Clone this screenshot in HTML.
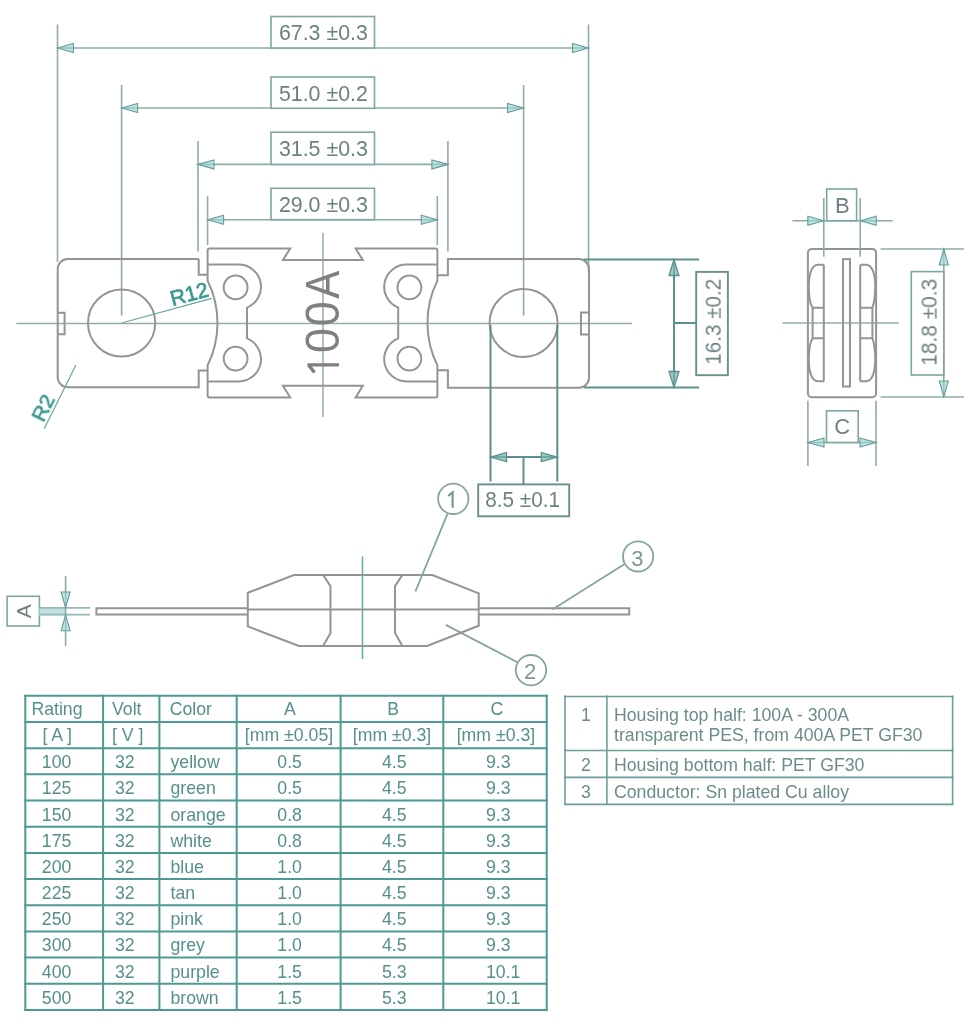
<!DOCTYPE html>
<html><head><meta charset="utf-8">
<style>
html,body{margin:0;padding:0;background:#fff;width:964px;height:1024px;overflow:hidden}
svg{display:block;position:absolute;left:0;top:0;will-change:transform}
text{font-family:"Liberation Sans",sans-serif}
.o{fill:none;stroke:#949494;stroke-width:2}
.d{fill:none;stroke:#8eaba8;stroke-width:1.6}
.dk{fill:none;stroke:#5e918d;stroke-width:2}
.c{fill:none;stroke:#92aeac;stroke-width:1.5}
.ark{fill:rgba(120,180,175,0.7);stroke:#5e918d;stroke-width:1.3}
.ar{fill:rgba(150,215,210,0.65);stroke:#6a9c98;stroke-width:1.1}
.bx{fill:#fff;stroke:#7ea6a3;stroke-width:1.6}
.t{fill:#6b8280;font-size:21px}
.tb{stroke:#4c9a92;stroke-width:2}
.tb2{stroke:#6d9d99;stroke-width:1.6}
.tt{fill:#55908b;font-size:17.7px}
.tt2{fill:#6b8d8a;font-size:17.7px}
.r{fill:#3a9a91;stroke:#3a9a91;stroke-width:0.7;font-size:21px}
</style></head>
<body>
<svg width="964" height="1024" viewBox="0 0 964 1024">
<defs>
<path id="arL" d="M0,0 L16,-4.5 L16,4.5 Z" class="ar"/>
</defs>

<!-- ===== TOP DIMENSIONS ===== -->
<g id="topdims">
<!-- 67.3 -->
<line class="d" x1="57.5" y1="24.5" x2="57.5" y2="262"/>
<line class="d" x1="588.5" y1="24.5" x2="588.5" y2="272"/>
<line class="d" x1="57.5" y1="48" x2="588.5" y2="48"/>
<path class="ar" d="M57.5,48 L73.5,43.5 L73.5,52.5 Z"/>
<path class="ar" d="M588.5,48 L572.5,43.5 L572.5,52.5 Z"/>
<rect class="bx" x="271" y="16.5" width="103.5" height="31.5"/>
<text class="t" style="font-size:23px" transform="translate(323.4,40) scale(0.93,1)" text-anchor="middle">67.3 ±0.3</text>
<!-- 51.0 -->
<line class="d" x1="121.6" y1="85" x2="121.6" y2="315.6"/>
<line class="d" x1="523.6" y1="85" x2="523.6" y2="315.6"/>
<line class="d" x1="121.6" y1="108" x2="523.6" y2="108"/>
<path class="ar" d="M121.6,108 L137.6,103.5 L137.6,112.5 Z"/>
<path class="ar" d="M523.6,108 L507.6,103.5 L507.6,112.5 Z"/>
<rect class="bx" x="271" y="77" width="103.5" height="31.3"/>
<text class="t" style="font-size:23px" transform="translate(323.4,101) scale(0.93,1)" text-anchor="middle">51.0 ±0.2</text>
<!-- 31.5 -->
<line class="d" x1="198" y1="141" x2="198" y2="251.6"/>
<line class="d" x1="447.9" y1="141" x2="447.9" y2="251.6"/>
<line class="d" x1="198" y1="164.4" x2="447.9" y2="164.4"/>
<path class="ar" d="M198,164.4 L214,159.9 L214,168.9 Z"/>
<path class="ar" d="M447.9,164.4 L431.9,159.9 L431.9,168.9 Z"/>
<rect class="bx" x="271" y="132.2" width="103.5" height="32.2"/>
<text class="t" style="font-size:23px" transform="translate(323.4,156.3) scale(0.93,1)" text-anchor="middle">31.5 ±0.3</text>
<!-- 29.0 -->
<line class="d" x1="207.6" y1="196" x2="207.6" y2="245"/>
<line class="d" x1="437.3" y1="196" x2="437.3" y2="245"/>
<line class="d" x1="207.6" y1="219.7" x2="437.3" y2="219.7"/>
<path class="ar" d="M207.6,219.7 L223.6,215.2 L223.6,224.2 Z"/>
<path class="ar" d="M437.3,219.7 L421.3,215.2 L421.3,224.2 Z"/>
<rect class="bx" x="271" y="188.3" width="103.5" height="31.4"/>
<text class="t" style="font-size:23px" transform="translate(323.4,211.5) scale(0.93,1)" text-anchor="middle">29.0 ±0.3</text>
</g>

<!-- ===== MAIN FUSE TOP VIEW ===== -->
<g id="fuse">
<!-- center lines -->
<line class="c" x1="16.3" y1="323.5" x2="632" y2="323.5"/>
<line class="c" x1="323" y1="232.7" x2="323" y2="417"/>
<!-- left body -->
<path class="o" d="M198.7,259 L67.7,259 A10,10 0 0 0 57.7,269 L57.7,377.2 A10,10 0 0 0 67.7,387.2 L198.7,387.2 L198.7,370.5 L207.6,370.5"/>
<path class="o" d="M198.7,259 L198.7,274.8 L207.6,274.8"/>
<path class="o" d="M57.7,312.8 L64.6,312.8 L64.6,334.3 L57.7,334.3"/>
<circle class="o" cx="121.6" cy="323" r="33.6"/>
<!-- middle -->
<path class="o" d="M207.6,280.6 L207.6,250.5 Q207.6,248.5 209.6,248.5 L290.2,248.5 L283,259.9 L362.8,259.9 L355.6,248.5 L435.4,248.5 Q437.4,248.5 437.4,250.5 L437.4,280.6 A95.5,95.5 0 0 0 437.4,365.4 L437.4,395.5 Q437.4,397.5 435.4,397.5 L355.6,397.5 L362.8,385.7 L283,385.7 L290.2,397.5 L209.6,397.5 Q207.6,397.5 207.6,395.5 L207.6,365.4 A95.9,95.9 0 0 0 207.6,280.6 Z"/>
<!-- lobes -->
<path class="o" d="M207.6,264.6 L238.7,264.6 A22.3,22.3 0 0 1 247,307.6 L247,338.4 A22.3,22.3 0 0 1 238.7,381.4 L207.6,381.4"/>
<path class="o" d="M437.4,264.6 L406.5,264.6 A22.3,22.3 0 0 0 398.2,307.6 L398.2,338.4 A22.3,22.3 0 0 0 406.5,381.4 L437.4,381.4"/>
<circle class="o" cx="235.6" cy="287.4" r="11.9"/>
<circle class="o" cx="235.6" cy="358.6" r="11.9"/>
<circle class="o" cx="409.4" cy="287.4" r="11.9"/>
<circle class="o" cx="409.4" cy="358.6" r="11.9"/>
<!-- right body -->
<path class="o" d="M437.4,275.3 L447.9,275.3 L447.9,259.1 L579,259.1 A10,10 0 0 1 589,269.1 L589,377.7 A10,10 0 0 1 579,387.7 L447.9,387.7 L447.9,370.3 L437.4,370.3"/>
<path class="o" d="M589,312.6 L581,312.6 L581,334.4 L589,334.4"/>
<circle class="o" cx="523.6" cy="323" r="34"/>
<!-- 100A -->
<g style="fill:#808080;font-size:49px">
<path d="M339,364.9 L307.5,364.9 M308.5,364.9 L314.5,372.5" style="fill:none;stroke:#808080;stroke-width:3.4"/>
<text transform="translate(338.9,340.4) rotate(-90) scale(0.92,1)" text-anchor="middle">0</text>
<text transform="translate(338.9,313.7) rotate(-90) scale(0.92,1)" text-anchor="middle">0</text>
<text transform="translate(338.9,284.8) rotate(-90) scale(0.86,1)" text-anchor="middle">A</text>
</g>
<!-- R12 -->
<line class="d" style="stroke:#6aa59f;stroke-width:1.2" x1="121.6" y1="323" x2="211.6" y2="298.3"/>
<text class="r" transform="translate(172.5,306) rotate(-15.3)">R12</text>
<!-- R2 -->
<line class="d" style="stroke:#6aa59f;stroke-width:1.2" x1="75.9" y1="364.9" x2="44.2" y2="428.7"/>
<text class="r" transform="translate(43.5,423) rotate(-63.6)">R2</text>
</g>

<!-- ===== 16.3 DIM ===== -->
<g>
<line class="dk" x1="584" y1="259.5" x2="699" y2="259.5"/>
<line class="dk" x1="584" y1="387.5" x2="699" y2="387.5"/>
<line class="dk" x1="674" y1="259.5" x2="674" y2="387.5"/>
<path class="ark" d="M674,259.5 L669,275.5 L679,275.5 Z"/>
<path class="ark" d="M674,387.5 L669,371.5 L679,371.5 Z"/>
<line class="dk" x1="674" y1="323" x2="696.2" y2="323"/>
<rect class="bx" style="stroke:#6a8f8c;stroke-width:1.9" x="696.2" y="271.9" width="31.7" height="103.3"/>
<text class="t" style="font-size:22.5px" transform="translate(720.7,321.8) rotate(-90) scale(0.92,1)" text-anchor="middle">16.3 ±0.2</text>
</g>

<!-- ===== 8.5 DIM ===== -->
<g>
<line class="dk" x1="490.5" y1="325" x2="490.5" y2="481.5"/>
<line class="dk" x1="557.3" y1="325" x2="557.3" y2="481.5"/>
<line class="dk" x1="490.5" y1="457.1" x2="557.3" y2="457.1"/>
<path class="ark" d="M490.5,457.1 L506.5,452.6 L506.5,461.6 Z"/>
<path class="ark" d="M557.3,457.1 L541.3,452.6 L541.3,461.6 Z"/>
<line class="dk" x1="523.5" y1="457.1" x2="523.5" y2="484.4"/>
<rect class="bx" style="stroke:#6a8f8c;stroke-width:1.9" x="478.2" y="484.4" width="91" height="31.9"/>
<text class="t" style="font-size:22px" transform="translate(522.6,507.4) scale(0.94,1)" text-anchor="middle">8.5 ±0.1</text>
</g>

<!-- ===== SIDE VIEW ===== -->
<g id="side">
<line class="c" x1="782.5" y1="323.1" x2="899" y2="323.1"/>
<rect class="o" x="807.9" y="248.9" width="68.2" height="148.4" rx="4"/>
<rect class="o" x="843" y="259.1" width="7" height="127.4"/>
<path class="o" d="M823.8,264.7 L818,264.7 C811,264.7 808.8,276 808.8,286 C808.8,298 810.5,305 812.6,307.7 L823.8,307.7"/>
<path class="o" d="M823.8,381.3 L818,381.3 C811,381.3 808.8,370 808.8,360 C808.8,348 810.5,341 812.6,338.3 L823.8,338.3"/>
<line class="o" x1="823.8" y1="264.7" x2="823.8" y2="381.3"/>
<line class="o" x1="812.6" y1="307.7" x2="812.6" y2="338.3"/>
<path class="o" d="M860.2,264.7 L866,264.7 C873,264.7 875.2,276 875.2,286 C875.2,298 873.5,305 872.4,307.7 L860.2,307.7"/>
<path class="o" d="M860.2,381.3 L866,381.3 C873,381.3 875.2,370 875.2,360 C875.2,348 873.5,341 872.4,338.3 L860.2,338.3"/>
<line class="o" x1="860.2" y1="264.7" x2="860.2" y2="381.3"/>
<line class="o" x1="872.4" y1="307.7" x2="872.4" y2="338.3"/>
<!-- B dim -->
<line class="d" x1="823.8" y1="198" x2="823.8" y2="256.8"/>
<line class="d" x1="860.2" y1="198" x2="860.2" y2="256.8"/>
<line class="d" x1="792.4" y1="220.8" x2="892.7" y2="220.8"/>
<path class="ar" d="M823.8,220.8 L807.8,216.3 L807.8,225.3 Z"/>
<path class="ar" d="M860.2,220.8 L876.2,216.3 L876.2,225.3 Z"/>
<rect class="bx" x="826.7" y="189" width="29.9" height="31.8"/>
<text class="t" style="font-size:22px" x="842.4" y="213.2" text-anchor="middle">B</text>
<!-- C dim -->
<line class="d" x1="807.9" y1="400.8" x2="807.9" y2="465.9"/>
<line class="d" x1="876" y1="400.8" x2="876" y2="465.9"/>
<line class="d" x1="807.9" y1="442.5" x2="876" y2="442.5"/>
<path class="ar" d="M807.9,442.5 L824,438 L824,447 Z"/>
<path class="ar" d="M876,442.5 L860,438 L860,447 Z"/>
<rect class="bx" x="826.5" y="410.8" width="31.7" height="31.7"/>
<text class="t" style="font-size:22px" x="842.3" y="434" text-anchor="middle">C</text>
<!-- 18.8 -->
<line class="d" x1="880.5" y1="249" x2="964" y2="249"/>
<line class="d" x1="880.5" y1="397" x2="964" y2="397"/>
<line class="d" x1="943.8" y1="249" x2="943.8" y2="397"/>
<path class="ar" d="M943.8,249 L939.3,265 L948.3,265 Z"/>
<path class="ar" d="M943.8,397 L939.3,381 L948.3,381 Z"/>
<rect class="bx" x="911.3" y="271.6" width="32.5" height="103.4"/>
<text class="t" style="font-size:22.5px" transform="translate(936.6,322.3) rotate(-90) scale(0.93,1)" text-anchor="middle">18.8 ±0.3</text>
</g>

<!-- ===== BOTTOM SIDE VIEW ===== -->
<g id="bottom">
<line class="c" style="stroke:#5fa9a6" x1="362.5" y1="556.5" x2="362.5" y2="659"/>
<path class="o" d="M247.8,592.8 L293.9,575 L432.3,575 L478.7,593.4 L478.7,625.7 L427.1,646 L298.9,646 L247.8,626.4 Z"/>
<line class="o" x1="247.8" y1="609.5" x2="478.7" y2="609.5"/>
<path class="o" d="M323.1,575 L330.5,586.1 L330.5,632.9 L323.1,646"/>
<path class="o" d="M402.4,575 L395,586.1 L395,632.9 L402.4,646"/>
<path class="o" d="M247.8,608.2 L96.4,608.2 L96.4,614.4 L247.8,614.4"/>
<path class="o" d="M478.7,608.2 L629.2,608.2 L629.2,614.6 L478.7,614.6"/>
<!-- balloons -->
<g style="fill:none;stroke:#86a5a2;stroke-width:1.8">
<circle cx="453.3" cy="498.8" r="15.2"/>
<circle cx="638.1" cy="556.4" r="15.1"/>
<circle cx="531" cy="670.2" r="15.2"/>
<line x1="447.6" y1="513.6" x2="415.4" y2="591.5"/>
<line x1="624.3" y1="564.3" x2="552.4" y2="609.6"/>
<line x1="517.6" y1="662.3" x2="445.8" y2="624.9"/>
<path d="M452.6,507.8 L452.6,492.4 L448.2,496" style="stroke:#7d9795;stroke-width:2.2"/>
</g>
<text style="fill:#7d9795;font-size:22px" x="637.4" y="565.6" text-anchor="middle">3</text>
<text style="fill:#7d9795;font-size:22px" x="530.2" y="678.7" text-anchor="middle">2</text>
<!-- A dim -->
<rect class="bx" x="7.1" y="596.3" width="32.3" height="29.7"/>
<text class="t" transform="translate(31,611.2) rotate(-90)" text-anchor="middle">A</text>
<rect x="39.4" y="607" width="25.6" height="8.4" style="fill:#bfe0df"/>
<line style="stroke:#96b9b7;stroke-width:1.8" x1="39.5" y1="607.9" x2="90" y2="607.9"/>
<line style="stroke:#96b9b7;stroke-width:1.8" x1="39.5" y1="614.6" x2="90" y2="614.6"/>
<line class="d" x1="65.6" y1="576" x2="65.6" y2="646.1"/>
<path class="ar" d="M65.6,607.5 L61.1,592 L70.1,592 Z"/>
<path class="ar" d="M65.6,615 L61.1,630.7 L70.1,630.7 Z"/>
</g>
<!-- ===== LEFT TABLE ===== -->
<g id="tbl">
<line class="tb" x1="25.3" y1="694.8" x2="25.3" y2="1011.0"/>
<line class="tb" x1="103.1" y1="694.8" x2="103.1" y2="1011.0"/>
<line class="tb" x1="159.4" y1="694.8" x2="159.4" y2="1011.0"/>
<line class="tb" x1="236.7" y1="694.8" x2="236.7" y2="1011.0"/>
<line class="tb" x1="340.6" y1="694.8" x2="340.6" y2="1011.0"/>
<line class="tb" x1="443.3" y1="694.8" x2="443.3" y2="1011.0"/>
<line class="tb" x1="546.7" y1="694.8" x2="546.7" y2="1011.0"/>
<line class="tb" x1="24.3" y1="695.8" x2="547.7" y2="695.8"/>
<line class="tb" x1="24.3" y1="722.0" x2="547.7" y2="722.0"/>
<line class="tb" x1="24.3" y1="748.2" x2="547.7" y2="748.2"/>
<line class="tb" x1="24.3" y1="774.3" x2="547.7" y2="774.3"/>
<line class="tb" x1="24.3" y1="800.5" x2="547.7" y2="800.5"/>
<line class="tb" x1="24.3" y1="826.7" x2="547.7" y2="826.7"/>
<line class="tb" x1="24.3" y1="852.9" x2="547.7" y2="852.9"/>
<line class="tb" x1="24.3" y1="879.1" x2="547.7" y2="879.1"/>
<line class="tb" x1="24.3" y1="905.2" x2="547.7" y2="905.2"/>
<line class="tb" x1="24.3" y1="931.4" x2="547.7" y2="931.4"/>
<line class="tb" x1="24.3" y1="957.6" x2="547.7" y2="957.6"/>
<line class="tb" x1="24.3" y1="983.8" x2="547.7" y2="983.8"/>
<line class="tb" x1="24.3" y1="1010.0" x2="547.7" y2="1010.0"/>
<text class="tt" x="31.4" y="714.9">Rating</text>
<text class="tt" x="112" y="714.9">Volt</text>
<text class="tt" x="169.7" y="714.9">Color</text>
<text class="tt" x="290" y="714.9" text-anchor="middle">A</text>
<text class="tt" x="393.2" y="714.9" text-anchor="middle">B</text>
<text class="tt" x="497" y="714.9" text-anchor="middle">C</text>
<text class="tt" x="42.4" y="741.1">[ A ]</text>
<text class="tt" x="112" y="741.1">[ V ]</text>
<text class="tt" x="289" y="741.1" text-anchor="middle">[mm ±0.05]</text>
<text class="tt" x="392" y="741.1" text-anchor="middle">[mm ±0.3]</text>
<text class="tt" x="495.9" y="741.1" text-anchor="middle">[mm ±0.3]</text>
<text class="tt" x="41.8" y="768.2">100</text>
<text class="tt" x="115" y="768.2">32</text>
<text class="tt" x="170.5" y="768.2">yellow</text>
<text class="tt" x="277.3" y="768.2">0.5</text>
<text class="tt" x="382" y="768.2">4.5</text>
<text class="tt" x="486" y="768.2">9.3</text>
<text class="tt" x="41.8" y="794.3">125</text>
<text class="tt" x="115" y="794.3">32</text>
<text class="tt" x="170.5" y="794.3">green</text>
<text class="tt" x="277.3" y="794.3">0.5</text>
<text class="tt" x="382" y="794.3">4.5</text>
<text class="tt" x="486" y="794.3">9.3</text>
<text class="tt" x="41.8" y="820.5">150</text>
<text class="tt" x="115" y="820.5">32</text>
<text class="tt" x="170.5" y="820.5">orange</text>
<text class="tt" x="277.3" y="820.5">0.8</text>
<text class="tt" x="382" y="820.5">4.5</text>
<text class="tt" x="486" y="820.5">9.3</text>
<text class="tt" x="41.8" y="846.7">175</text>
<text class="tt" x="115" y="846.7">32</text>
<text class="tt" x="170.5" y="846.7">white</text>
<text class="tt" x="277.3" y="846.7">0.8</text>
<text class="tt" x="382" y="846.7">4.5</text>
<text class="tt" x="486" y="846.7">9.3</text>
<text class="tt" x="41.8" y="872.9">200</text>
<text class="tt" x="115" y="872.9">32</text>
<text class="tt" x="170.5" y="872.9">blue</text>
<text class="tt" x="277.3" y="872.9">1.0</text>
<text class="tt" x="382" y="872.9">4.5</text>
<text class="tt" x="486" y="872.9">9.3</text>
<text class="tt" x="41.8" y="899.1">225</text>
<text class="tt" x="115" y="899.1">32</text>
<text class="tt" x="170.5" y="899.1">tan</text>
<text class="tt" x="277.3" y="899.1">1.0</text>
<text class="tt" x="382" y="899.1">4.5</text>
<text class="tt" x="486" y="899.1">9.3</text>
<text class="tt" x="41.8" y="925.2">250</text>
<text class="tt" x="115" y="925.2">32</text>
<text class="tt" x="170.5" y="925.2">pink</text>
<text class="tt" x="277.3" y="925.2">1.0</text>
<text class="tt" x="382" y="925.2">4.5</text>
<text class="tt" x="486" y="925.2">9.3</text>
<text class="tt" x="41.8" y="951.4">300</text>
<text class="tt" x="115" y="951.4">32</text>
<text class="tt" x="170.5" y="951.4">grey</text>
<text class="tt" x="277.3" y="951.4">1.0</text>
<text class="tt" x="382" y="951.4">4.5</text>
<text class="tt" x="486" y="951.4">9.3</text>
<text class="tt" x="41.8" y="977.6">400</text>
<text class="tt" x="115" y="977.6">32</text>
<text class="tt" x="170.5" y="977.6">purple</text>
<text class="tt" x="277.3" y="977.6">1.5</text>
<text class="tt" x="382" y="977.6">5.3</text>
<text class="tt" x="486" y="977.6">10.1</text>
<text class="tt" x="41.8" y="1003.8">500</text>
<text class="tt" x="115" y="1003.8">32</text>
<text class="tt" x="170.5" y="1003.8">brown</text>
<text class="tt" x="277.3" y="1003.8">1.5</text>
<text class="tt" x="382" y="1003.8">5.3</text>
<text class="tt" x="486" y="1003.8">10.1</text>
</g>
<!-- ===== RIGHT TABLE ===== -->
<g id="tbl2">
<line class="tb2" x1="565" y1="695.5" x2="565" y2="804.9"/>
<line class="tb2" x1="606.9" y1="695.5" x2="606.9" y2="804.9"/>
<line class="tb2" x1="952.6" y1="695.5" x2="952.6" y2="804.9"/>
<line class="tb2" x1="564" y1="696.5" x2="953.6" y2="696.5"/>
<line class="tb2" x1="564" y1="750.5" x2="953.6" y2="750.5"/>
<line class="tb2" x1="564" y1="777.4" x2="953.6" y2="777.4"/>
<line class="tb2" x1="564" y1="804.4" x2="953.6" y2="804.4"/>
<text class="tt2" x="586" y="721" text-anchor="middle">1</text>
<text class="tt2" x="614" y="721">Housing top half: 100A - 300A</text>
<text class="tt2" x="614" y="740.7">transparent PES, from 400A PET GF30</text>
<text class="tt2" x="586" y="770.7" text-anchor="middle">2</text>
<text class="tt2" x="614" y="770.7">Housing bottom half: PET GF30</text>
<text class="tt2" x="586" y="797.8" text-anchor="middle">3</text>
<text class="tt2" x="614" y="797.8">Conductor: Sn plated Cu alloy</text>
</g>
</svg>
</body></html>
